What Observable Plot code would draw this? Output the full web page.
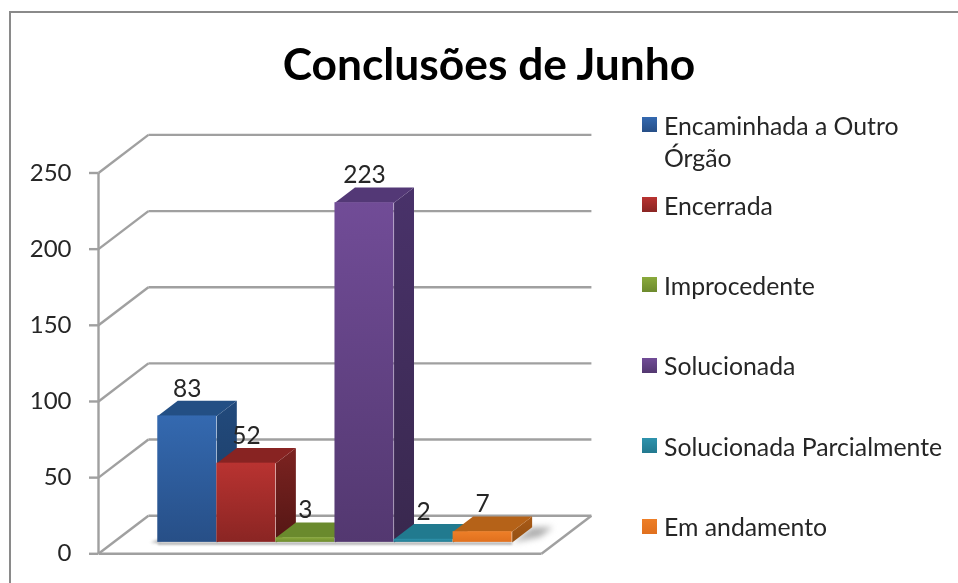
<!DOCTYPE html>
<html lang="pt">
<head>
<meta charset="utf-8">
<script src="https://cdn.jsdelivr.net/npm/d3@7"></script>
<script src="https://cdn.jsdelivr.net/npm/@observablehq/plot@0.6"></script>
<style>
html,body{margin:0;padding:0;background:#fff;}
body{width:958px;height:583px;position:relative;overflow:hidden;font-family:Lato,"Open Sans",sans-serif;filter:blur(.45px);}
#frame{position:absolute;left:9px;top:11px;width:960px;height:600px;border:2.5px solid #8a8a8a;box-sizing:border-box;}
#chart{position:absolute;left:0;top:0;}
#chart svg{display:block;background:transparent;}
h1{position:absolute;left:189px;width:600px;top:36px;margin:0;text-align:center;font:700 44.3px/54px Lato,sans-serif;color:#000;}
#legend{position:absolute;left:642px;top:109.5px;margin:0;padding:0;list-style:none;font-size:24.8px;line-height:32px;color:#262626;}
#legend li{position:relative;padding-left:22px;margin-bottom:48.4px;width:295px;}
#legend li:first-child{margin-bottom:16px;width:262px;}
#legend i{position:absolute;left:0;top:7.5px;width:15px;height:15px;}
</style>
</head>
<body>
<div id="frame"></div>
<div id="chart"></div>
<h1 id="title"></h1>
<ul id="legend"></ul>
<script>
const titleText = "Conclusões de Junho";
const categories = ["Encaminhada a Outro Órgão", "Encerrada", "Improcedente", "Solucionada", "Solucionada Parcialmente", "Em andamento"];
const values = [83, 52, 3, 223, 2, 7];
const yTicks = [0, 50, 100, 150, 200, 250];
const frontTop = ["#3469b0", "#b93331", "#8aaa3c", "#714c97", "#2e93ad", "#ee7f28"];
const frontBottom = ["#274f87", "#8a2523", "#6d8a2e", "#533870", "#23798f", "#e0701e"];
const topColor = ["#234f84", "#882322", "#6a8a2d", "#533876", "#217a8f", "#b56218"];
const sideTop = ["#224a7c", "#7c2321", "#62802a", "#49326a", "#1e6c80", "#a95a16"];
const sideBottom = ["#1b3a62", "#541614", "#55702a", "#39284e", "#1a5e70", "#945012"];

// oblique projection of the 3D box: depth t runs 0 (front) to 1 (back wall)
const floorWidth = 7.5, sideGap = 0.75, depthX = 0.845, depthY = 25;
const barNear = 0.3, barFar = 0.7;
const px = (x, t) => x + t * depthX;
const py = (v, t) => v + t * depthY;
const pt = (x, v, t) => ({x: px(x, t), y: py(v, t)});

const wall = {stroke: "#a0a0a0", strokeWidth: 2.4};
const walls = [
  Plot.link(yTicks, {x1: () => 0, y1: d => d, x2: () => px(0, 1), y2: d => py(d, 1), ...wall}),
  Plot.link(yTicks, {x1: () => px(0, 1), y1: d => py(d, 1), x2: () => px(floorWidth, 1), y2: d => py(d, 1), ...wall}),
  Plot.link([0], {x1: 0, y1: 0, x2: 0, y2: 250, ...wall}),
  Plot.link([0], {x1: 0, y1: 0, x2: floorWidth, y2: 0, ...wall}),
  Plot.link([0], {x1: floorWidth, y1: 0, x2: px(floorWidth, 1), y2: py(0, 1), ...wall})
];

const endX = sideGap + categories.length;
const shadows = [
  Plot.line([pt(endX, 0, barNear), pt(endX + .35, 0, barNear + .15), pt(endX + .35, 0, barFar), pt(endX, 0, barFar)],
    {x: "x", y: "y", fill: "#8c8c8c", stroke: "none", fillOpacity: .7, imageFilter: "blur(3px)"}),
  Plot.line([pt(sideGap - .12, 0, barNear), pt(sideGap, 0, barNear), pt(sideGap, 0, barNear + .1)],
    {x: "x", y: "y", fill: "#777", stroke: "none", fillOpacity: .8, imageFilter: "blur(1.5px)"}),
  Plot.link([0], {x1: px(sideGap, barNear), y1: py(0, barNear - .03), x2: px(endX, barNear), y2: py(0, barNear - .03), stroke: "#999", strokeWidth: 2, imageFilter: "blur(1px)"})
];

const bars = values.flatMap((v, i) => {
  const l = sideGap + i, r = l + 1;
  return [
    Plot.line([pt(r, 0, barNear), pt(r, v, barNear), pt(r, v, barFar), pt(r, 0, barFar)],
      {x: "x", y: "y", fill: `url(#side${i})`, stroke: "none"}),
    Plot.line([pt(l, v, barNear), pt(r, v, barNear), pt(r, v, barFar), pt(l, v, barFar)],
      {x: "x", y: "y", fill: topColor[i], stroke: "none"}),
    Plot.rect([v], {x1: () => px(l, barNear), x2: () => px(r, barNear), y1: () => py(0, barNear), y2: () => py(v, barNear), fill: `url(#front${i})`})
  ];
});

const labels = Plot.text(values, {
  x: (d, i) => px(sideGap + i + .5, barNear),
  y: d => py(d, barFar),
  text: d => String(d),
  dy: -12,
  fontSize: 24.5,
  fill: "#262626"
});

function defs() {
  const ns = "http://www.w3.org/2000/svg";
  const el = document.createElementNS(ns, "defs");
  const add = (id, a, b) => {
    const g = document.createElementNS(ns, "linearGradient");
    g.setAttribute("id", id);
    g.setAttribute("x1", 0); g.setAttribute("y1", 0); g.setAttribute("x2", 0); g.setAttribute("y2", 1);
    [[0, a], [1, b]].forEach(([o, c]) => {
      const s = document.createElementNS(ns, "stop");
      s.setAttribute("offset", o); s.setAttribute("stop-color", c);
      g.appendChild(s);
    });
    el.appendChild(g);
  };
  categories.forEach((_, i) => {
    add(`front${i}`, frontTop[i], frontBottom[i]);
    add(`side${i}`, sideTop[i], sideBottom[i]);
  });
  return el;
}

const chart = Plot.plot({
  width: 958,
  height: 583,
  marginLeft: 98,
  marginRight: 417,
  marginTop: 172.5,
  marginBottom: 29.7,
  style: {fontFamily: "Lato, sans-serif", background: "transparent", overflow: "visible"},
  x: {domain: [0, floorWidth], axis: null},
  y: {domain: [0, 250], axis: null},
  marks: [
    defs,
    ...walls,
    Plot.axisY(yTicks, {anchor: "left", tickSize: 9, tickPadding: 18, stroke: "#a0a0a0", strokeWidth: 2.4, fill: "#262626", fontSize: 24, label: null, tickFormat: d => String(d)}),
    ...shadows,
    ...bars,
    labels
  ]
});
document.getElementById("chart").appendChild(chart);
document.getElementById("title").textContent = titleText;

const legend = document.getElementById("legend");
categories.forEach((c, i) => {
  const li = document.createElement("li");
  const sw = document.createElement("i");
  sw.style.background = `linear-gradient(${frontTop[i]}, ${frontBottom[i]})`;
  li.appendChild(sw);
  li.appendChild(document.createTextNode(c));
  legend.appendChild(li);
});
</script>
</body>
</html>
